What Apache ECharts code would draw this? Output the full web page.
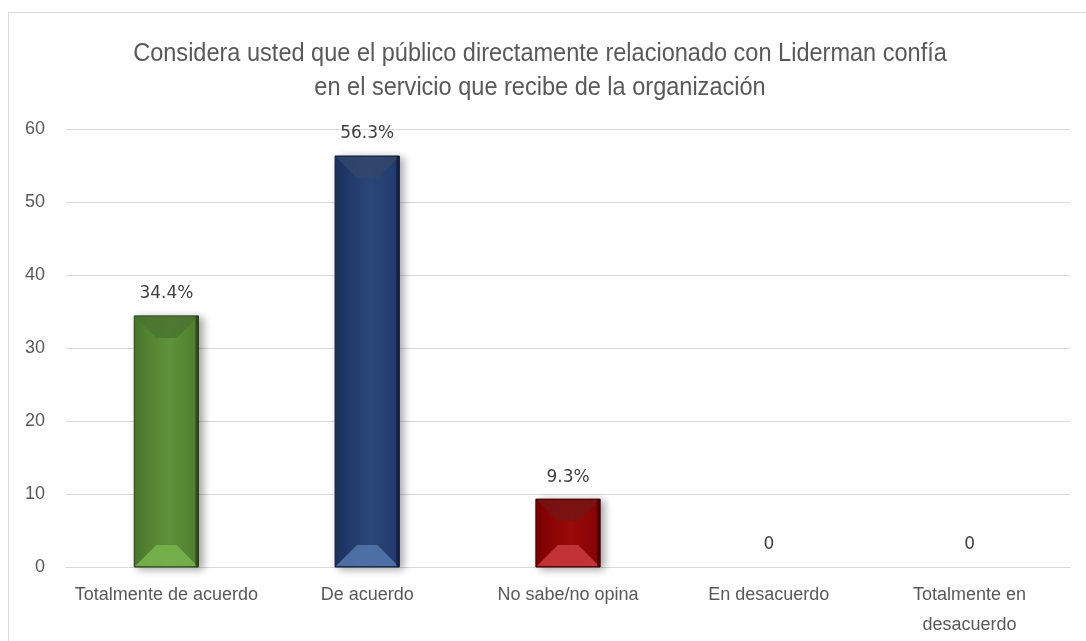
<!DOCTYPE html>
<html>
<head>
<meta charset="utf-8">
<style>html,body{margin:0;padding:0;background:#fff}#c{width:1086px;height:641px}</style>
<script src="https://cdn.jsdelivr.net/npm/echarts@6/dist/echarts.min.js"></script>
</head>
<body>
<div id="c"></div>
<script>
const titleText = 'Considera usted que el público directamente relacionado con Liderman confía\nen el servicio que recibe de la organización';
const categories = ['Totalmente de acuerdo', 'De acuerdo', 'No sabe/no opina', 'En desacuerdo', 'Totalmente en\ndesacuerdo'];
const values = [34.4, 56.3, 9.3, 0, 0];
const valueLabels = ['34.4%', '56.3%', '9.3%', '0', '0'];
const yTicks = [0, 10, 20, 30, 40, 50, 60];

const palettes = [
  {l:'#4a7a2c', m:'#5e9139', r:'#4d7d2e', top:'#4b7330', bot:'#78b24c', edge:'#263f16'},
  {l:'#1c3260', m:'#2a4679', r:'#213a69', top:'#33476b', bot:'#5274aa', edge:'#0f1c36'},
  {l:'#7e0000', m:'#9a0a0a', r:'#850303', top:'#741515', bot:'#c8393b', edge:'#3d0000'},
  {l:'#888', m:'#888', r:'#888', top:'#888', bot:'#888', edge:'#888'},
  {l:'#888', m:'#888', r:'#888', top:'#888', bot:'#888', edge:'#888'}
];

const chart = echarts.init(document.getElementById('c'));
const data = values.map((v, i) => [i, v]);

chart.setOption({
  animation: false,
  graphic: [{
    type: 'rect', shape: {x: 8.5, y: 12.5, width: 1100, height: 700},
    style: {fill: null, stroke: '#d9d9d9', lineWidth: 1}, silent: true, z: -1
  }, {
    type: 'text', x: 540, y: 37, scaleX: 0.905, silent: true,
    style: {
      text: titleText, align: 'center', verticalAlign: 'top',
      fontFamily: '"Liberation Sans",Arial', fontSize: 26, lineHeight: 34, fill: '#595959'
    }
  }],
  grid: {left: 66, right: 16, top: 129, bottom: 74},
  xAxis: {
    type: 'category', data: categories,
    axisLine: {lineStyle: {color: '#d9d9d9'}}, axisTick: {show: false},
    axisLabel: {color: '#595959', fontSize: 18, fontFamily: '"Liberation Sans",Arial', margin: 13, lineHeight: 30, interval: 0}
  },
  yAxis: {
    type: 'value', min: 0, max: 60, interval: 10,
    axisLine: {show: false}, axisTick: {show: false},
    axisLabel: {color: '#595959', fontSize: 18, fontFamily: '"Liberation Sans",Arial', margin: 21},
    splitLine: {lineStyle: {color: '#d9d9d9'}}
  },
  series: [{
    type: 'custom',
    data: data,
    renderItem: function (params, api) {
      const i = api.value(0), v = api.value(1);
      const base = api.coord([i, 0]);
      const top = api.coord([i, v]);
      const bw = api.size([1, 0])[0] * 0.32;
      const x0 = base[0] - bw / 2, x1 = base[0] + bw / 2;
      const y0 = top[1], y1 = base[1];
      const h = y1 - y0;
      const p = palettes[i];
      const children = [];
      if (h > 0.5) {
        const b = Math.min(22, bw / 2, h / 2);
        children.push({
          type: 'rect', shape: {x: x0, y: y0, width: bw, height: h},
          style: {
            fill: new echarts.graphic.LinearGradient(0, 0, 1, 0, [
              {offset: 0, color: p.l}, {offset: 0.55, color: p.m}, {offset: 1, color: p.r}
            ]),
            stroke: p.edge, lineWidth: 1,
            shadowColor: 'rgba(0,0,0,0.35)', shadowBlur: 8, shadowOffsetX: 4, shadowOffsetY: 2
          }
        });
        children.push({
          type: 'polygon', shape: {points: [[x0 + 1, y0 + 1], [x1 - 1, y0 + 1], [x1 - b, y0 + b], [x0 + b, y0 + b]]},
          style: {fill: p.top, opacity: 0.8}
        });
        children.push({
          type: 'polygon', shape: {points: [[x0 + 1, y1 - 1], [x1 - 1, y1 - 1], [x1 - b, y1 - b], [x0 + b, y1 - b]]},
          style: {fill: p.bot, opacity: 0.9}
        });
        children.push({
          type: 'rect', shape: {x: x1 - 3, y: y0, width: 3, height: h},
          style: {fill: p.edge, opacity: 0.8}
        });
      }
      children.push({
        type: 'text',
        style: {
          text: valueLabels[i], x: base[0], y: y0 - 22,
          align: 'center', verticalAlign: 'middle',
          fill: '#404040', fontSize: 17, fontFamily: '"DejaVu Sans",sans-serif'
        }
      });
      return {type: 'group', children: children};
    }
  }]
});
</script>
</body>
</html>
